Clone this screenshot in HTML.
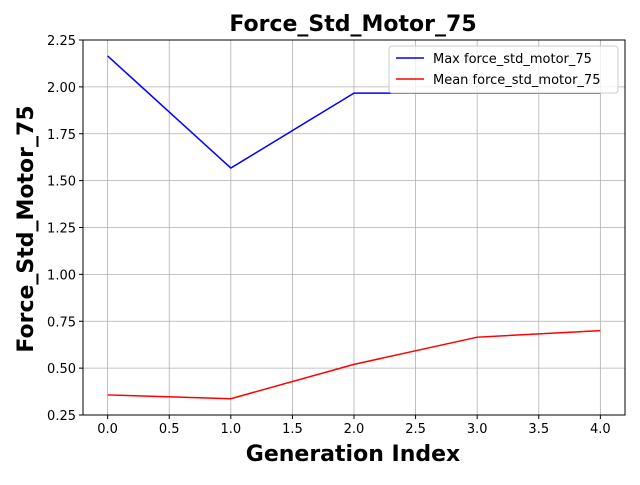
<!DOCTYPE html>
<html><head><meta charset="utf-8"><style>
body{margin:0;background:#fff}
svg text{font-family:"DejaVu Sans","Liberation Sans",sans-serif}
</style></head><body>
<svg id="chart" width="640" height="480" xmlns="http://www.w3.org/2000/svg">
<rect width="640" height="480" fill="#fff"/>
<text x="353" y="31" font-size="22" font-weight="bold" text-anchor="middle">Force_Std_Motor_75</text>
<g id="grid"></g><g id="ticks"></g><g id="series"></g>
<rect x="83" y="40" width="542" height="375" fill="none" stroke="#000" stroke-width="1"/>
<text x="353" y="461" font-size="22" font-weight="bold" text-anchor="middle">Generation Index</text>
<text x="33" y="229" font-size="22" font-weight="bold" text-anchor="middle" transform="rotate(-90 33 229)">Force_Std_Motor_75</text>
<g>
<rect x="389" y="46" width="229" height="47" rx="3" fill="#fff" fill-opacity="0.8" stroke="#ccc"/>
<line x1="396" y1="58" x2="424" y2="58" stroke="blue" stroke-width="1.5"/>
<text x="433" y="63" font-size="13">Max force_std_motor_75</text>
<line x1="396" y1="79" x2="424" y2="79" stroke="red" stroke-width="1.5"/>
<text x="433" y="84" font-size="13">Mean force_std_motor_75</text>
</g>
</svg>
<script>
const generations=[0,1,2,3,4];
const maxValues=[2.165,1.567,1.967,1.967,1.967];
const meanValues=[0.357,0.337,0.52,0.665,0.7];
const xTicks=[0,0.5,1,1.5,2,2.5,3,3.5,4];
const yTicks=[0.25,0.5,0.75,1,1.25,1.5,1.75,2,2.25];
const NS="http://www.w3.org/2000/svg";
const X0=83,X1=625,Y0=415,Y1=40,xmin=-0.2,xmax=4.2,ymin=0.25,ymax=2.25;
function xs(v){return X0+(v-xmin)/(xmax-xmin)*(X1-X0);}
function ys(v){return Y0-(v-ymin)/(ymax-ymin)*(Y0-Y1);}
function mk(t,a,p){const e=document.createElementNS(NS,t);for(const k in a)e.setAttribute(k,a[k]);p.appendChild(e);return e;}
const grid=document.getElementById('grid'),ticks=document.getElementById('ticks'),series=document.getElementById('series');
xTicks.forEach(v=>{const x=xs(v);
 const g=mk('line',{x1:x,x2:x,y1:Y1,y2:Y0,stroke:'#b0b0b0','stroke-width':0.8},grid);
 
 
 mk('line',{x1:x,x2:x,y1:Y0,y2:Y0+4,stroke:'#000'},ticks);
 const t=mk('text',{x:x,y:Y0+18,'font-size':13,'text-anchor':'middle'},ticks);t.textContent=v.toFixed(1);
 
 });
yTicks.forEach(v=>{const y=ys(v);
 const g=mk('line',{x1:X0,x2:X1,y1:y,y2:y,stroke:'#b0b0b0','stroke-width':0.8},grid);
 
 
 mk('line',{x1:X0-4,x2:X0,y1:y,y2:y,stroke:'#000'},ticks);
 const t=mk('text',{x:X0-7,y:y+5,'font-size':13,'text-anchor':'end'},ticks);t.textContent=v.toFixed(2);
 
 });
function line(vals,color,name){const pts=generations.map((g,i)=>xs(g)+','+ys(vals[i])).join(' ');
 const p=mk('polyline',{points:pts,fill:'none',stroke:color,'stroke-width':1.5},series);
 
 }
line(maxValues,'blue','max-force-line');
line(meanValues,'red','mean-force-line');
</script>
</body></html>
